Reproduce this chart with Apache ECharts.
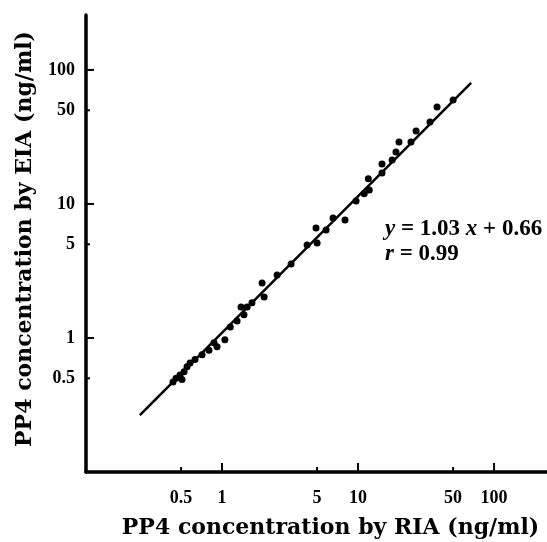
<!DOCTYPE html>
<html>
<head>
<meta charset="utf-8">
<script src="https://cdn.jsdelivr.net/npm/echarts@6/dist/echarts.min.js"></script>
<style>
  html, body { margin: 0; padding: 0; background: #fff; }
  #chart { width: 547px; height: 542px; }
</style>
</head>
<body>
<div id="chart"></div>
<script>
// RIA (x) vs EIA (y), ng/ml
const riaValues = [0.436, 0.459, 0.508, 0.491, 0.526, 0.553, 0.582, 0.633, 0.713, 0.802,
    0.873, 0.919, 1.05, 1.15, 1.29, 1.45, 1.53, 1.38, 1.66, 1.97,
    2.04, 2.54, 3.22, 4.22, 5.00, 4.91, 5.82, 6.55, 8.02, 9.67,
    11.1, 12.1, 11.9, 15.0, 15.0, 17.8, 19.0, 20.0, 24.5, 26.7,
    33.8, 38.1, 50.0];
const eiaValues = [0.47, 0.50, 0.49, 0.53, 0.56, 0.61, 0.65, 0.69, 0.75, 0.81,
    0.92, 0.86, 0.97, 1.21, 1.34, 1.49, 1.70, 1.70, 1.83, 2.57,
    2.02, 2.95, 3.57, 4.94, 5.12, 6.62, 6.40, 7.86, 7.60, 10.5,
    11.9, 12.7, 15.4, 17.0, 19.9, 21.3, 24.4, 29.0, 29.0, 35.1,
    40.9, 52.9, 59.7];
// regression line end points
const fitLine = [[0.249, 0.266], [67.8, 80]];

const majorTicks = [1, 10, 100];
const minorTicks = [0.5, 5, 50];
const tickLabels = [0.5, 1, 5, 10, 50, 100];
const equationText = '{i|y} = 1.03 {i|x} + 0.66';
const rText = '{i|r} = 0.99';

const FONT = '"Liberation Serif", "DejaVu Serif", serif';
const TITLE_FONT = '"DejaVu Serif", "Liberation Serif", serif';
const AXMIN = 0.1, XMAX = 245, YMAX = 257;

function makeAxis(isX) {
    return {
        type: 'log',
        logBase: 10,
        min: AXMIN,
        max: isX ? XMAX : YMAX,
        position: isX ? 'bottom' : 'left',
        axisLine: { show: true, onZero: false, lineStyle: { color: '#000', width: 3.5 } },
        axisTick: { show: false },
        minorTick: { show: false },
        splitLine: { show: false },
        axisLabel: { show: true, customValues: tickLabels, margin: isX ? 17 : 11,
            color: '#000', fontFamily: FONT, fontWeight: 'bold', fontSize: 18 },
        nameLocation: 'middle',
        nameTextStyle: { color: '#000', fontFamily: TITLE_FONT, fontWeight: 'bold', fontSize: 22 }
    };
}

const xAxis = makeAxis(true);
xAxis.name = 'PP4 concentration by RIA (ng/ml)';
xAxis.nameGap = 45;
xAxis.nameTextStyle.padding = [0, 0, 0, 28];

const yAxis = makeAxis(false);
yAxis.name = 'PP4 concentration by EIA (ng/ml)';
yAxis.nameGap = 50;
yAxis.nameTextStyle.padding = [0, 0, 0, 9];

// tick marks drawn inside the axes, long at decades, short at the 5s
function tickSeries(isX) {
    const vals = majorTicks.concat(minorTicks);
    return {
        type: 'custom',
        coordinateSystem: 'cartesian2d',
        clip: false,
        data: vals.map(v => isX ? [v, AXMIN] : [AXMIN, v]),
        renderItem: function (params, api) {
            const v = api.value(isX ? 0 : 1);
            const p = api.coord([api.value(0), api.value(1)]);
            const major = majorTicks.indexOf(v) >= 0;
            const len = isX ? (major ? 9 : 5) : (major ? 8 : 4);
            const shape = isX
                ? { x1: p[0], y1: p[1], x2: p[0], y2: p[1] - len }
                : { x1: p[0], y1: p[1], x2: p[0] + len, y2: p[1] };
            return { type: 'line', shape: shape, style: { stroke: '#000', lineWidth: 2 } };
        },
        z: 4
    };
}

const points = riaValues.map((v, i) => [v, eiaValues[i]]);

const chart = echarts.init(document.getElementById('chart'), null, { renderer: 'canvas' });
chart.setOption({
    animation: false,
    backgroundColor: '#fff',
    grid: { left: 86, right: 0, top: 15, bottom: 70, containLabel: false, outerBoundsMode: 'none' },
    xAxis: xAxis,
    yAxis: yAxis,
    series: [
        {
            type: 'line',
            data: fitLine,
            showSymbol: false,
            lineStyle: { color: '#000', width: 2.5 },
            z: 2
        },
        {
            type: 'scatter',
            data: points,
            symbol: 'circle',
            symbolSize: 7,
            itemStyle: { color: '#000', opacity: 1 },
            z: 3
        },
        tickSeries(true),
        tickSeries(false)
    ],
    graphic: [
        {
            type: 'text', left: 385, top: 218,
            style: { text: equationText, fill: '#000', font: 'bold 23px ' + FONT,
                rich: { i: { fontStyle: 'italic', fontWeight: 'bold', fontSize: 23, fontFamily: FONT } } }
        },
        {
            type: 'text', left: 385, top: 243,
            style: { text: rText, fill: '#000', font: 'bold 23px ' + FONT,
                rich: { i: { fontStyle: 'italic', fontWeight: 'bold', fontSize: 23, fontFamily: FONT } } }
        }
    ]
});
</script>
</body>
</html>
